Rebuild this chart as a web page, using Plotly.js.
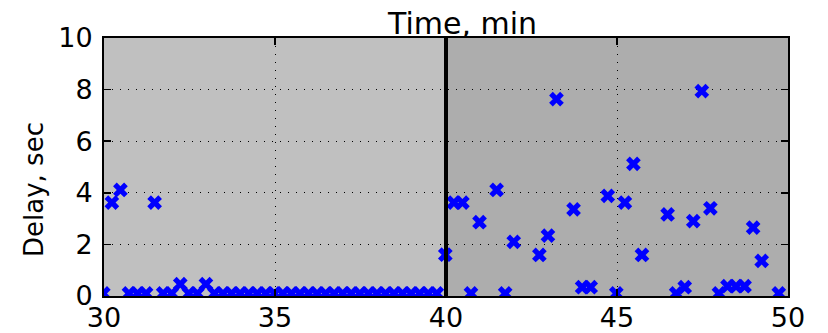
<!DOCTYPE html>
<html>
<head>
<meta charset="utf-8">
<script src="https://cdn.plot.ly/plotly-3.0.1.min.js"></script>
<style>html,body{margin:0;padding:0;background:#fff;}#chart{width:828px;height:333px;}</style>
</head>
<body>
<div id="chart"></div>
<script>
// Time (min) and delay (sec) of each sample
const timeMin = [
  29.98, 30.23, 30.48, 30.73, 30.98, 31.23, 31.48, 31.73, 31.98, 32.23,
  32.48, 32.73, 32.98, 33.23, 33.48, 33.73, 33.98, 34.23, 34.48, 34.73,
  34.98, 35.23, 35.48, 35.73, 35.98, 36.23, 36.48, 36.73, 36.98, 37.23,
  37.48, 37.73, 37.98, 38.23, 38.48, 38.73, 38.98, 39.23, 39.48, 39.73,
  39.98,
  40.23, 40.48, 40.73, 40.98, 41.48, 41.73, 41.98, 42.73, 42.98, 43.23,
  43.73, 43.98, 44.23, 44.73, 44.98, 45.23, 45.48, 45.73, 46.48, 46.73,
  46.98, 47.23, 47.48, 47.73, 47.98, 48.23, 48.48, 48.73, 48.98, 49.23,
  49.73
];
const delaySec = [
  0.1, 3.62, 4.11, 0.1, 0.1, 0.1, 3.62, 0.1, 0.1, 0.46,
  0.1, 0.1, 0.46, 0.1, 0.1, 0.1, 0.1, 0.1, 0.1, 0.1,
  0.1, 0.1, 0.1, 0.1, 0.1, 0.1, 0.1, 0.1, 0.1, 0.1,
  0.1, 0.1, 0.1, 0.1, 0.1, 0.1, 0.1, 0.1, 0.1, 0.1,
  1.6,
  3.62, 3.62, 0.1, 2.86, 4.11, 0.1, 2.1, 1.59, 2.34, 7.63,
  3.36, 0.34, 0.34, 3.88, 0.1, 3.62, 5.12, 1.59, 3.16, 0.1,
  0.34, 2.9, 7.94, 3.4, 0.1, 0.38, 0.38, 0.38, 2.65, 1.36,
  0.1
];
const xTicks = [30, 35, 40, 45, 50];
const yTicks = [0, 2, 4, 6, 8, 10];
const phaseStart = [30, 40];
const phaseEnd = [40, 50];
const phaseColor = ['#c0c0c0', '#adadad'];
const splitAt = 40;

const font = 'DejaVu Sans, sans-serif';
const shapes = phaseStart.map((s, i) => ({
  type: 'rect', xref: 'x', yref: 'paper', x0: s, x1: phaseEnd[i], y0: 0, y1: 1,
  fillcolor: phaseColor[i], line: {width: 0}, layer: 'below'
}));
shapes.push({type: 'line', xref: 'x', yref: 'paper', x0: splitAt, x1: splitAt, y0: 0, y1: 1,
  line: {color: '#000', width: 4}, layer: 'above'});

const axisCommon = {
  showline: true, linecolor: '#000', linewidth: 2, mirror: 'ticks',
  ticks: 'inside', ticklen: 7, tickwidth: 1.5, tickcolor: '#000',
  showgrid: true, gridcolor: '#000', gridwidth: 1, griddash: '1px,7px',
  zeroline: false, tickfont: {family: font, size: 27, color: '#000'}
};

Plotly.newPlot('chart', [{
  type: 'scatter', mode: 'markers', x: timeMin, y: delaySec,
  marker: {symbol: 'x', size: 13, color: '#0000ff', line: {width: 0}},
  cliponaxis: true, showlegend: false
}], {
  width: 828, height: 333,
  margin: {l: 104, r: 40, t: 38, b: 37},
  paper_bgcolor: '#fff', plot_bgcolor: '#c0c0c0',
  shapes: shapes,
  xaxis: Object.assign({}, axisCommon, {range: [30, 50], tickvals: xTicks, ticktext: xTicks.map(String), ticklabelstandoff: -3}),
  yaxis: Object.assign({}, axisCommon, {range: [0, 10], tickvals: yTicks, ticktext: yTicks.map(String), ticklabelstandoff: 4}),
  annotations: [
    {text: 'Time, min', xref: 'paper', yref: 'paper', x: 0.523, y: 1, yanchor: 'bottom', yshift: -5,
     showarrow: false, font: {family: font, size: 30, color: '#000'}},
    {text: 'Delay, sec', xref: 'paper', yref: 'paper', x: 0, xanchor: 'center', xshift: -70, y: 0.5, yshift: -23,
     textangle: -90, showarrow: false, font: {family: font, size: 26, color: '#000'}}
  ]
}, {displayModeBar: false, staticPlot: true});
</script>
</body>
</html>
